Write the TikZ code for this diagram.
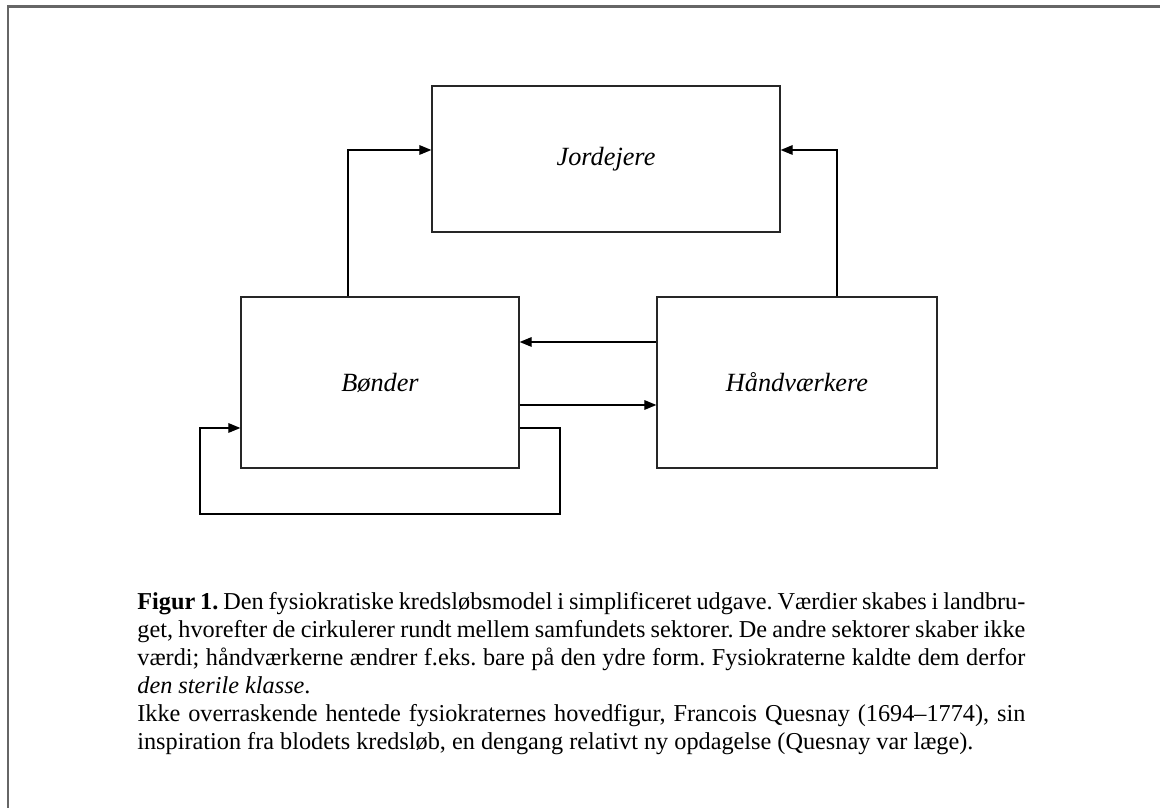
\documentclass[tikz,border=0pt]{standalone}
\usepackage{fontspec}
\setmainfont{Liberation Serif}
\usetikzlibrary{arrows.meta,calc}
\def\px{0.54pt}
\tikzset{
	sektor/.style={draw=black!85, line width=0.7pt, minimum width=#1, inner sep=0pt, font=\fontsize{14.2}{15}\selectfont\itshape},
	strom/.style={line width=0.7pt, -{Triangle[length=6.5pt,width=5.2pt]}},
}

\begin{document}
\frenchspacing
\begin{tikzpicture}[x=\px, y=-\px]
		%%%%% START %%%%%
		
		\useasboundingbox (0, 0) rectangle (1160, 808);
		\draw[line width=1.1pt, color=black!60] (8, 808) -- (8, 6.5) -- (1160, 6.5);
		
		\node[sektor=348*\px, minimum height=146*\px] (jord) at (606, 159) {Jordejere};
		\node[sektor=278*\px, minimum height=171*\px] (bond) at (380, 382.5) {Bønder};
		\node[sektor=280*\px, minimum height=171*\px] (haand) at (797, 382.5) {Håndværkere};
		
		\draw[strom] ([xshift=-32*\px]bond.north) |- ([yshift=9*\px]jord.west);
		\draw[strom] ([xshift=40*\px]haand.north) |- ([yshift=9*\px]jord.east);
		\draw[strom] ([yshift=40.5*\px]haand.west) -- ([yshift=40.5*\px]bond.east);
		\draw[strom] ([yshift=-22.5*\px]bond.east) -- ([yshift=-22.5*\px]haand.west);
		
		\coordinate (loopR) at (560, 514);
		\coordinate (loopL) at (200, 514);
		\draw[strom] ([yshift=-45.5*\px]bond.east) -| (loopR) -- (loopL) |- ([yshift=-45.5*\px]bond.west);
		
		\node[anchor=north west, inner sep=0pt, text width=888*\px, align=justify,
			font=\fontsize{13.1}{15.1}\selectfont] (tekst) at (137, 592) {%
			\parindent=0pt \spaceskip=0.25em plus 0.2em minus 0.1em
			\textbf{Figur 1.} Den fysiokratiske kredsløbsmodel i simplificeret udgave. Værdier skabes i landbru-\linebreak
			get, hvorefter de cirkulerer rundt mellem samfundets sektorer. De andre sektorer skaber ikke\linebreak
			værdi; håndværkerne ændrer f.eks. bare på den ydre form. Fysiokraterne kaldte dem derfor\linebreak
			\textit{den sterile klasse}.\par
			Ikke overraskende hentede fysiokraternes hovedfigur, Francois Quesnay (1694--1774), sin\linebreak
			inspiration fra blodets kredsløb, en dengang relativt ny opdagelse (Quesnay var læge).};
		
		%%%%% END %%%%%
	\end{tikzpicture}
\end{document}
